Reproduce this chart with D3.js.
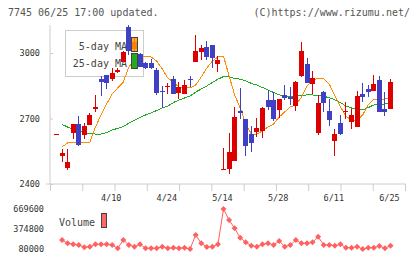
<html>
<head>
<meta charset="utf-8">
<script src="https://d3js.org/d3.v7.min.js"></script>
<style>
  body { margin: 0; background: #fff; }
  text { font-family: "DejaVu Sans Mono", monospace; }
</style>
</head>
<body>
<div id="chart"></div>
<script type="text/javascript">
// daily prices (index 0 is the first day shown)
var opens  = [2629,2528,2473,2634,2675,2624,2670,2744,2881,2899,2881,2913,2959,3119,3018,2995,2954,2954,2922,2826,2844,2881,2817,2812,2881,2959,3005,3027,3037,2950,2469,2469,2505,2734,2698,2629,2638,2643,2785,2785,2739,2808,2798,2757,2895,2950,2858,2634,2821,2734,2597,2679,2730,2684,2661,2812,2835,2826,2876,2744,2744];
var highs  = [2629,2560,2560,2675,2711,2679,2725,2808,2895,2899,2931,2931,3010,3128,3073,3000,2959,2973,2931,2849,2863,2895,2867,2876,2895,3082,3037,3055,3037,2986,2565,2634,2753,2840,2698,2666,2702,2753,2831,2821,2789,2853,2844,2872,3050,2977,2918,2808,2826,2789,2652,2716,2776,2744,2826,2863,2853,2899,2895,2821,2881];
var lows   = [2629,2501,2464,2606,2574,2606,2668,2730,2803,2835,2872,2908,2959,2991,3005,2936,2927,2927,2808,2748,2812,2810,2789,2810,2844,2957,2968,2968,2931,2913,2469,2446,2505,2698,2528,2547,2615,2611,2739,2689,2702,2785,2762,2734,2890,2863,2812,2624,2730,2666,2528,2624,2698,2652,2661,2776,2798,2826,2730,2711,2744];
var closes = [2629,2542,2501,2675,2579,2666,2716,2753,2867,2863,2908,2922,3005,3009,3050,2936,2931,2931,2817,2821,2849,2812,2844,2853,2876,3009,3023,2982,2977,2968,2469,2547,2707,2725,2574,2588,2657,2748,2753,2698,2789,2794,2789,2867,3009,2863,2886,2771,2771,2693,2629,2629,2734,2716,2803,2798,2821,2858,2730,2730,2867];

// moving averages as drawn
var ma5  = [null,2570,2588,2588,2588,2588,2592,2661,2716,2766,2812,2840,2867,2936,2968,2982,2982,2982,2963,2927,2885,2867,2844,2840,2840,2853,2890,2931,2963,2982,2986,2895,2808,2748,2675,2629,2629,2643,2661,2675,2707,2730,2753,2762,2798,2849,2876,2885,2881,2858,2803,2753,2711,2693,2693,2716,2762,2789,2789,2789,2794];
var ma25 = [null,2673,2661,2650,2643,2636,2631,2629,2629,2636,2647,2655,2663,2679,2691,2705,2716,2725,2737,2748,2757,2773,2785,2794,2803,2821,2835,2849,2865,2880,2892,2890,2883,2880,2872,2861,2853,2842,2831,2819,2808,2803,2801,2803,2805,2808,2808,2805,2801,2796,2785,2773,2757,2748,2741,2739,2750,2762,2766,2766,2771];

// volume
var volumes = [null,212700,164000,149300,139000,105000,113900,149300,149300,149300,139000,90300,212700,139000,113900,149300,90300,90300,90300,113900,90300,99200,90300,99200,80000,286400,164000,109500,113900,149300,669600,507500,385100,246600,178800,128600,113900,149300,164000,139000,197900,113900,139000,212700,164000,164000,178800,261300,139000,139000,128600,149300,99200,99200,113900,80000,99200,99200,124200,90300,128600];

// tick labels
var priceTicks = [2400, 2700, 3000];
var volumeTicks = [80000, 374800, 669600];
var dateLabels = ["4/10", "4/24", "5/14", "5/28", "6/11", "6/25"];
var dateIndex = [10, 20, 30, 40, 50, 60];

var w = 420, h = 259;
var upColor = "#dd0000", downColor = "#4040c4";

var svg = d3.select("#chart").append("svg")
    .attr("width", w)
    .attr("height", h)
    .style("display", "block");

var x = d3.scaleLinear().domain([0, closes.length - 1]).range([56.5, 390.5]);
var y = d3.scaleLinear().domain([2400, 3000]).range([184, 53]);
var vy = d3.scaleLinear().domain([80000, 669600]).range([249, 209]);
var grid = d3.scaleLinear().domain([0, 11]).range([50, 405]);

// header texts
svg.append("text").attr("x", 8).attr("y", 16)
    .attr("font-size", "10px").attr("fill", "#555")
    .text("7745 06/25 17:00 updated.");
svg.append("text").attr("x", 410).attr("y", 16)
    .attr("text-anchor", "end")
    .attr("font-size", "10px").attr("fill", "#555")
    .text("(C)https://www.rizumu.net/");

// left axis
var yAxis = svg.append("g")
    .attr("transform", "translate(50,0)")
    .call(d3.axisLeft(y).tickValues(priceTicks).tickSize(4).tickPadding(6).tickFormat(d3.format("d")));
yAxis.select(".domain").remove();
yAxis.selectAll(".tick line").attr("x2", 3).attr("stroke", "#ccc");
yAxis.selectAll(".tick text").attr("font-family", "DejaVu Sans Mono").attr("font-size", "8.5px").attr("fill", "#333");
yAxis.append("line")
    .attr("x1", 0).attr("x2", 0)
    .attr("y1", y(3128)).attr("y2", y(2400))
    .attr("stroke", "#ccc");

// bottom axis, evenly spaced ticks
var xAxis = svg.append("g")
    .attr("transform", "translate(0," + y(2400) + ")")
    .call(d3.axisBottom(grid).tickValues(d3.range(12)).tickSize(7).tickFormat(""));
xAxis.select(".domain").remove();
xAxis.selectAll(".tick line").attr("stroke", "#ccc");
xAxis.append("line")
    .attr("x1", 46).attr("x2", 406)
    .attr("y1", 0).attr("y2", 0)
    .attr("stroke", "#ccc");

svg.selectAll(".dlabel")
    .data(dateLabels)
    .enter()
    .append("text")
    .attr("class", "dlabel")
    .attr("x", function(d, i) { return x(dateIndex[i]) - 1; })
    .attr("y", 201)
    .attr("text-anchor", "middle")
    .attr("font-size", "8.5px")
    .attr("fill", "#333")
    .text(function(d) { return d; });

// legend box (under the candles)
var legend = svg.append("g");
legend.append("rect")
    .attr("x", 65.5).attr("y", 30.5)
    .attr("width", 78).attr("height", 46)
    .attr("fill", "#fff").attr("stroke", "#ccc");
legend.append("text").attr("x", 127).attr("y", 50)
    .attr("text-anchor", "end").attr("font-size", "10px").attr("fill", "#444")
    .text("5-day MA");
legend.append("text").attr("x", 127).attr("y", 67)
    .attr("text-anchor", "end").attr("font-size", "10px").attr("fill", "#444")
    .text("25-day MA");

// moving average lines
var maLine = d3.line()
    .defined(function(d) { return d != null; })
    .x(function(d, i) { return x(i); })
    .y(function(d) { return y(d); });

svg.append("path")
    .attr("d", maLine(ma25))
    .attr("fill", "none")
    .attr("stroke", "#22aa22")
    .attr("stroke-width", 1)
    .attr("shape-rendering", "crispEdges");
svg.append("path")
    .attr("d", maLine(ma5))
    .attr("fill", "none")
    .attr("stroke", "#ff8c00")
    .attr("stroke-width", 1)
    .attr("shape-rendering", "crispEdges");

// candles
var candles = svg.selectAll(".candle")
    .data(closes)
    .enter()
    .append("g")
    .attr("class", "candle")
    .attr("shape-rendering", "crispEdges");

candles.append("line")
    .attr("x1", function(d, i) { return Math.round(x(i) - 2.5) + 2.5; })
    .attr("x2", function(d, i) { return Math.round(x(i) - 2.5) + 2.5; })
    .attr("y1", function(d, i) { return y(highs[i]); })
    .attr("y2", function(d, i) { return y(lows[i]); })
    .attr("stroke", function(d, i) { return closes[i] >= opens[i] ? upColor : downColor; });

candles.append("rect")
    .attr("x", function(d, i) { return Math.round(x(i) - 2.5); })
    .attr("width", 5)
    .attr("y", function(d, i) { return Math.round(y(Math.max(opens[i], closes[i]))); })
    .attr("height", function(d, i) { return Math.max(1, Math.round(Math.abs(y(opens[i]) - y(closes[i])))); })
    .attr("fill", function(d, i) { return closes[i] >= opens[i] ? upColor : downColor; });

// legend swatches sit on top of the candles
var swatches = svg.append("g");
swatches.append("rect")
    .attr("x", 131.5).attr("y", 37.5).attr("width", 6).attr("height", 14)
    .attr("fill", "#ff9900").attr("fill-opacity", 0.85).attr("stroke", "#444");
swatches.append("rect")
    .attr("x", 131.5).attr("y", 53.5).attr("width", 6).attr("height", 15)
    .attr("fill", "#22aa22").attr("stroke", "#444");

// volume panel
svg.selectAll(".vlabel")
    .data(volumeTicks)
    .enter()
    .append("text")
    .attr("class", "vlabel")
    .attr("x", 44)
    .attr("y", function(d) { return vy(d) + 3; })
    .attr("text-anchor", "end")
    .attr("font-size", "8.5px")
    .attr("fill", "#333")
    .text(function(d) { return d; });

svg.append("text").attr("x", 59).attr("y", 226)
    .attr("font-size", "10px").attr("fill", "#444")
    .text("Volume");
svg.append("rect")
    .attr("x", 101.5).attr("y", 213.5).attr("width", 5).attr("height", 14)
    .attr("fill", "#ff6666").attr("stroke", "#444");

var volLine = d3.line()
    .defined(function(d) { return d != null; })
    .x(function(d, i) { return x(i); })
    .y(function(d) { return vy(d); });

svg.append("path")
    .attr("d", volLine(volumes))
    .attr("fill", "none")
    .attr("stroke", "#ff6060")
    .attr("stroke-width", 1);

// diamond markers
var marker = d3.symbol().type(d3.symbolSquare).size(18);
var volPoints = volumes.map(function(v, i) { return { i: i, v: v }; })
    .filter(function(d) { return d.v != null; });

svg.selectAll(".vmark")
    .data(volPoints)
    .enter()
    .append("path")
    .attr("class", "vmark")
    .attr("d", marker)
    .attr("transform", function(d) { return "translate(" + x(d.i) + "," + vy(d.v) + ") rotate(45)"; })
    .attr("fill", "#ff6060");
</script>
</body>
</html>
